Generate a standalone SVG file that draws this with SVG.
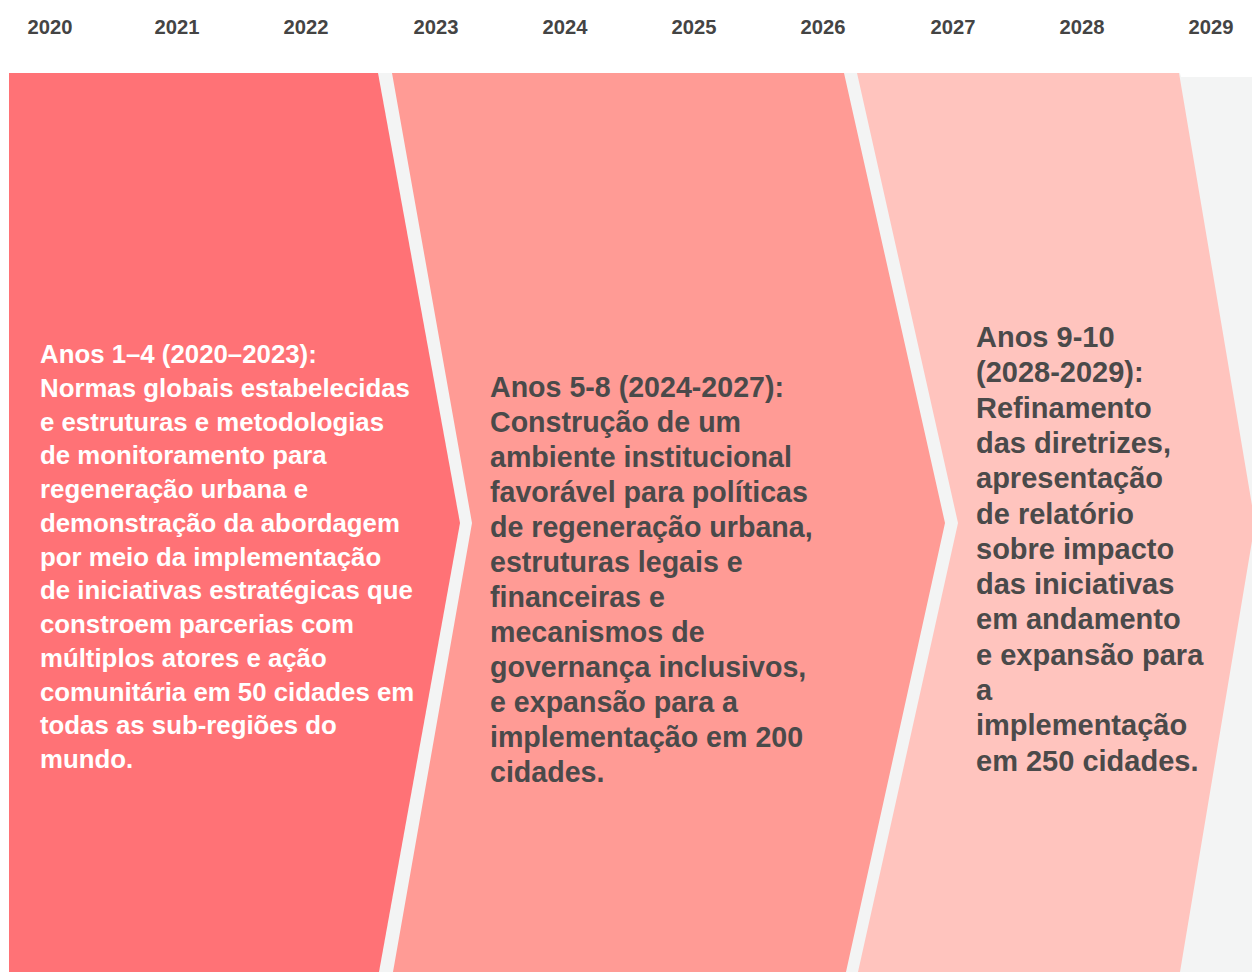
<svg xmlns="http://www.w3.org/2000/svg" width="1252" height="972" viewBox="0 0 1252 972">
<style>
.yr{font-family:"Liberation Sans",Arial,sans-serif;font-weight:bold;font-size:20.2px;fill:#444444;text-anchor:middle}
.t{font-family:"Liberation Sans",Arial,sans-serif;font-weight:bold}
.t1{font-size:25.8px;fill:#ffffff}
.t2{font-size:28.6px;fill:#4a4a4a}
.t3{font-size:29px;fill:#4a4a4a}
</style>
<rect width="1252" height="972" fill="#ffffff"/>
<g id="years">
<text class="yr" x="50" y="34">2020</text>
<text class="yr" x="177" y="34">2021</text>
<text class="yr" x="306" y="34">2022</text>
<text class="yr" x="436" y="34">2023</text>
<text class="yr" x="565" y="34">2024</text>
<text class="yr" x="694" y="34">2025</text>
<text class="yr" x="823" y="34">2026</text>
<text class="yr" x="953" y="34">2027</text>
<text class="yr" x="1082" y="34">2028</text>
<text class="yr" x="1211" y="34">2029</text>
</g>
<path id="background" d="M9,73 H1180 L1181,77 H1252 V972 H9 Z" fill="#f3f4f4"/>
<g id="phase1">
<polygon points="9,73 378,73 460,523 379,972 9,972" fill="#ff7276"/>
<text class="t t1" x="40">
<tspan x="40" y="363">Anos 1–4 (2020–2023):</tspan>
<tspan x="40" y="396.75">Normas globais estabelecidas</tspan>
<tspan x="40" y="430.5">e estruturas e metodologias</tspan>
<tspan x="40" y="464.25">de monitoramento para</tspan>
<tspan x="40" y="498">regeneração urbana e</tspan>
<tspan x="40" y="531.75">demonstração da abordagem</tspan>
<tspan x="40" y="565.5">por meio da implementação</tspan>
<tspan x="40" y="599.25">de iniciativas estratégicas que</tspan>
<tspan x="40" y="633">constroem parcerias com</tspan>
<tspan x="40" y="666.75">múltiplos atores e ação</tspan>
<tspan x="40" y="700.5">comunitária em 50 cidades em</tspan>
<tspan x="40" y="734.25">todas as sub-regiões do</tspan>
<tspan x="40" y="768">mundo.</tspan>
</text>
</g>
<g id="phase2">
<polygon points="392,73 844,73 945,523 846,972 393,972 472,523" fill="#ff9b95"/>
<text class="t t2" x="490">
<tspan x="490" y="397">Anos 5-8 (2024-2027):</tspan>
<tspan x="490" y="432">Construção de um</tspan>
<tspan x="490" y="467">ambiente institucional</tspan>
<tspan x="490" y="502">favorável para políticas</tspan>
<tspan x="490" y="537">de regeneração urbana,</tspan>
<tspan x="490" y="572">estruturas legais e</tspan>
<tspan x="490" y="607">financeiras e</tspan>
<tspan x="490" y="642">mecanismos de</tspan>
<tspan x="490" y="677">governança inclusivos,</tspan>
<tspan x="490" y="712">e expansão para a</tspan>
<tspan x="490" y="747">implementação em 200</tspan>
<tspan x="490" y="782">cidades.</tspan>
</text>
</g>
<g id="phase3">
<polygon points="857,73 1179,73 1255,523 1180,972 858,972 958,523" fill="#ffc4be"/>
<text class="t t3" x="976">
<tspan x="976" y="347">Anos 9-10</tspan>
<tspan x="976" y="382.3">(2028-2029):</tspan>
<tspan x="976" y="417.6">Refinamento</tspan>
<tspan x="976" y="452.9">das diretrizes,</tspan>
<tspan x="976" y="488.2">apresentação</tspan>
<tspan x="976" y="523.5">de relatório</tspan>
<tspan x="976" y="558.8">sobre impacto</tspan>
<tspan x="976" y="594.1">das iniciativas</tspan>
<tspan x="976" y="629.4">em andamento</tspan>
<tspan x="976" y="664.7">e expansão para</tspan>
<tspan x="976" y="700">a</tspan>
<tspan x="976" y="735.3">implementação</tspan>
<tspan x="976" y="770.6">em 250 cidades.</tspan>
</text>
</g>
<g id="connectors"></g>
</svg>
